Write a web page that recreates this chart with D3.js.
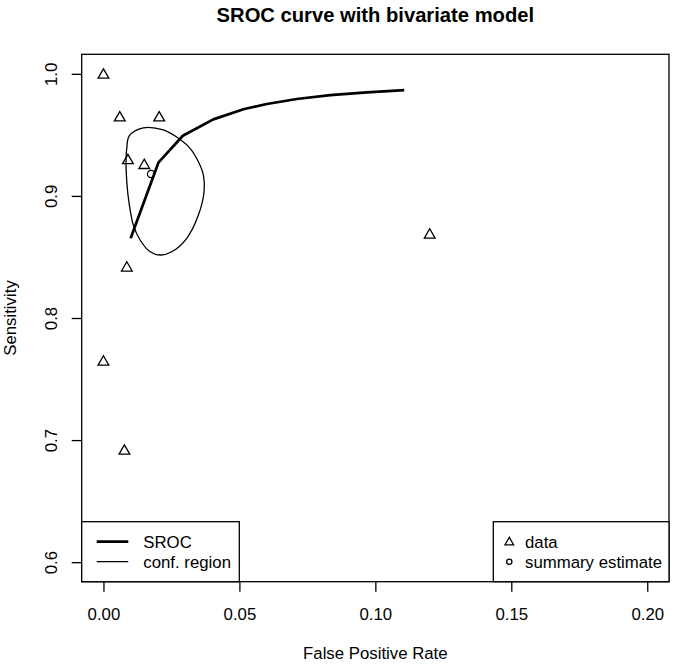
<!DOCTYPE html>
<html>
<head>
<meta charset="utf-8">
<script src="https://cdn.jsdelivr.net/npm/d3@7"></script>
<style>
  html, body { margin: 0; padding: 0; background: #fff; }
  svg { display: block; font-family: "Liberation Sans", Arial, sans-serif; }
</style>
</head>
<body>
<svg id="chart" width="675" height="664"></svg>
<script>
// ---- Data ----
const studyFpr  = [0.000, 0.006, 0.0205, 0.009, 0.015, 0.0086, 0.000, 0.0077, 0.120];
const studySens = [0.999, 0.964, 0.964, 0.929, 0.925, 0.841, 0.764, 0.691, 0.868];

const summaryFpr  = [0.0175];
const summarySens = [0.918];

const srocFpr  = [0.0100, 0.0202, 0.0292, 0.0404, 0.0515, 0.0601, 0.0711, 0.0834, 0.0969, 0.1106];
const srocSens = [0.8653, 0.9272, 0.9493, 0.9627, 0.9710, 0.9753, 0.9794, 0.9826, 0.9848, 0.9867];

const confFpr  = [0.01468, 0.02204, 0.02756, 0.03186, 0.03492, 0.03676, 0.03701, 0.03492, 0.03065, 0.02513,
                  0.02082, 0.01715, 0.01347, 0.01100, 0.00953, 0.00857, 0.00832, 0.00857, 0.00953];
const confSens = [0.9558, 0.9540, 0.9472, 0.9390, 0.9280, 0.9171, 0.9034, 0.8843, 0.8653, 0.8543,
                  0.8516, 0.8543, 0.8639, 0.8761, 0.8925, 0.9116, 0.9308, 0.9390, 0.9493];

const xTicks = [0.00, 0.05, 0.10, 0.15, 0.20];
const yTicks = [0.6, 0.7, 0.8, 0.9, 1.0];

const titleText = "SROC curve with bivariate model";
const xLabel = "False Positive Rate";
const yLabel = "Sensitivity";
const legendLeft  = ["SROC", "conf. region"];
const legendRight = ["data", "summary estimate"];

// ---- Layout ----
const svg = d3.select("#chart");
const L = 81.7, R = 669, T = 54.3, B = 581.7;
const FS = 16.8;

const x = d3.scaleLinear().domain([-0.008, 0.208]).range([L, R]);
const y = d3.scaleLinear().domain([0.584, 1.016]).range([B, T]);

// Title
svg.append("text")
  .attr("x", (L + R) / 2).attr("y", 22)
  .attr("text-anchor", "middle")
  .attr("font-size", 20.2).attr("font-weight", "bold")
  .text(titleText);

// Axes
const xAxis = d3.axisBottom(x).tickValues(xTicks).tickFormat(d3.format(".2f")).tickSize(10).tickPadding(16);
const gx = svg.append("g").attr("transform", `translate(0,${B})`).call(xAxis);
gx.select(".domain").remove();
gx.selectAll("line").attr("stroke", "#000").attr("stroke-width", 1.3);
gx.selectAll("text").attr("font-size", FS).attr("fill", "#000").attr("dy", null).attr("y", 38.3);

const yAxis = d3.axisLeft(y).tickValues(yTicks).tickFormat(d3.format(".1f")).tickSize(10);
const gy = svg.append("g").attr("transform", `translate(${L},0)`).call(yAxis);
gy.select(".domain").remove();
gy.selectAll("line").attr("stroke", "#000").attr("stroke-width", 1.3);
gy.selectAll("text")
  .attr("font-size", FS).attr("fill", "#000")
  .attr("x", null).attr("dy", null)
  .attr("text-anchor", "middle")
  .attr("transform", "translate(-25,0) rotate(-90)")
  .attr("y", 0);

// Axis labels
svg.append("text")
  .attr("x", (L + R) / 2).attr("y", 659)
  .attr("text-anchor", "middle").attr("font-size", FS)
  .text(xLabel);
svg.append("text")
  .attr("transform", `translate(16,${(T + B) / 2}) rotate(-90)`)
  .attr("text-anchor", "middle").attr("font-size", FS)
  .text(yLabel);

// Plot box
svg.append("rect")
  .attr("x", L).attr("y", T).attr("width", R - L).attr("height", B - T)
  .attr("fill", "none").attr("stroke", "#000").attr("stroke-width", 1.3);

// Confidence region
const confPts = confFpr.map((f, i) => [x(f), y(confSens[i])]);
svg.append("path")
  .attr("d", d3.line().curve(d3.curveCatmullRomClosed)(confPts))
  .attr("fill", "none").attr("stroke", "#000").attr("stroke-width", 1.3);

// SROC curve
const srocPts = srocFpr.map((f, i) => [x(f), y(srocSens[i])]);
svg.append("path")
  .attr("d", d3.line()(srocPts))
  .attr("fill", "none").attr("stroke", "#000").attr("stroke-width", 2.7)
  .attr("stroke-linejoin", "round");

// Study points (triangles)
const tri = d3.symbol().type(d3.symbolTriangle).size(50);
svg.append("g").selectAll("path")
  .data(studyFpr.map((f, i) => [f, studySens[i]]))
  .join("path")
  .attr("d", tri)
  .attr("transform", d => `translate(${x(d[0])},${y(d[1])})`)
  .attr("fill", "none").attr("stroke", "#000").attr("stroke-width", 1.3);

// Summary estimate (circle)
svg.append("g").selectAll("circle")
  .data(summaryFpr.map((f, i) => [f, summarySens[i]]))
  .join("circle")
  .attr("cx", d => x(d[0])).attr("cy", d => y(d[1])).attr("r", 3.6)
  .attr("fill", "none").attr("stroke", "#000").attr("stroke-width", 1.3);

// Left legend
const lg = svg.append("g");
lg.append("rect").attr("x", L).attr("y", 521.7).attr("width", 239.3 - L).attr("height", B - 521.7)
  .attr("fill", "#fff").attr("stroke", "#000").attr("stroke-width", 1.3);
[2.7, 1.3].forEach((w, i) => {
  lg.append("line").attr("x1", 96.7).attr("x2", 128.3)
    .attr("y1", 541.7 + i * 20).attr("y2", 541.7 + i * 20)
    .attr("stroke", "#000").attr("stroke-width", w);
  lg.append("text").attr("x", 143.3).attr("y", 547.7 + i * 20)
    .attr("font-size", FS).text(legendLeft[i]);
});

// Right legend
const rg = svg.append("g");
rg.append("rect").attr("x", 493.3).attr("y", 521.7).attr("width", R - 493.3).attr("height", B - 521.7)
  .attr("fill", "#fff").attr("stroke", "#000").attr("stroke-width", 1.3);
rg.append("path").attr("d", d3.symbol().type(d3.symbolTriangle).size(32)())
  .attr("transform", "translate(509.3,542.3)")
  .attr("fill", "none").attr("stroke", "#000").attr("stroke-width", 1.3);
rg.append("circle").attr("cx", 509.3).attr("cy", 561.7).attr("r", 2.6)
  .attr("fill", "none").attr("stroke", "#000").attr("stroke-width", 1.3);
legendRight.forEach((t, i) => {
  rg.append("text").attr("x", 525).attr("y", 547.7 + i * 20)
    .attr("font-size", FS).text(t);
});
</script>
</body>
</html>
